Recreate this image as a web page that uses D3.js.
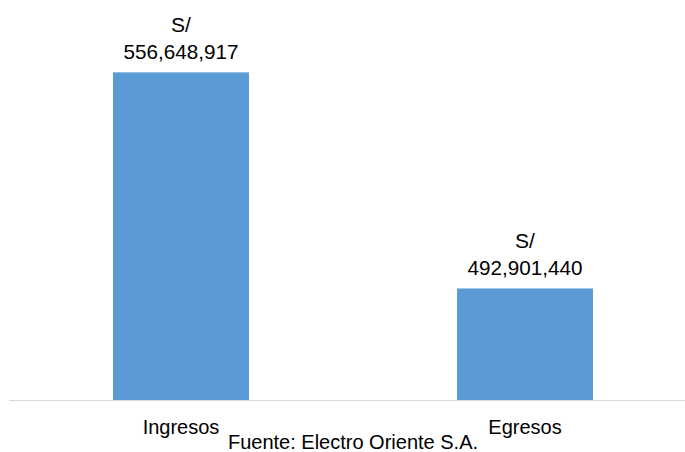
<!DOCTYPE html>
<html><head><meta charset="utf-8">
<script src="https://cdn.jsdelivr.net/npm/d3@7"></script>
<style>body{margin:0;background:#fff}svg{display:block}text{font-family:"Liberation Sans",Arial,sans-serif;fill:#000}</style>
</head><body>
<svg id="c" width="685" height="452"></svg>
<script>
const categories = ["Ingresos", "Egresos"];
const values = [556648917, 492901440];
const valuePrefix = "S/";
const sourceNote = "Fuente: Electro Oriente S.A.";

const svg = d3.select("#c");
const x = d3.scaleBand().domain(categories).range([9, 697]).paddingInner(0.6047).paddingOuter(0.3023);
const y = d3.scaleLinear().domain([460000000, 560000000]).range([400, 61]);
const fmt = d3.format(",");

svg.selectAll("rect.bar").data(categories).join("rect")
  .attr("class","bar")
  .attr("x", d => x(d))
  .attr("width", x.bandwidth())
  .attr("y", (d,i) => y(values[i]))
  .attr("height", (d,i) => y.range()[0] - y(values[i]))
  .attr("fill", "#5B9BD5");

svg.append("line").attr("x1", 9).attr("x2", 685).attr("y1", 400.5).attr("y2", 400.5)
  .attr("stroke", "#D9D9D9").attr("stroke-width", 1);

const lab = svg.selectAll("g.lab").data(categories).join("g").attr("class","lab")
  .attr("transform", (d,i) => `translate(${x(d)+x.bandwidth()/2},${y(values[i])})`);
lab.append("text").attr("text-anchor","middle").attr("y", -40).attr("font-size", 21).text(valuePrefix);
lab.append("text").attr("text-anchor","middle").attr("y", -13).attr("font-size", 21)
  .attr("textLength", 115).attr("lengthAdjust","spacingAndGlyphs")
  .text((d,i) => fmt(values[i]));

svg.selectAll("text.cat").data(categories).join("text").attr("class","cat")
  .attr("x", d => x(d)+x.bandwidth()/2).attr("y", 434)
  .attr("text-anchor","middle").attr("font-size", 20).text(d => d);

svg.append("text").attr("x", 353).attr("y", 449).attr("text-anchor","middle")
  .attr("font-size", 20).text(sourceNote);
</script>
</body></html>
